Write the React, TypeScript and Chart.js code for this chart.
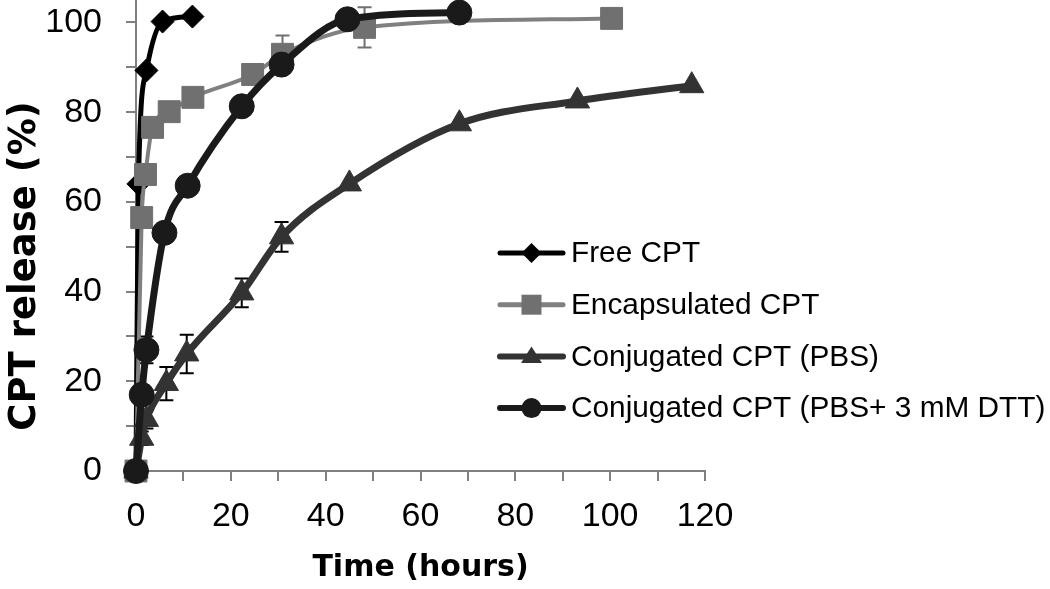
import React, { useEffect, useRef } from 'react';
import { Chart, registerables } from 'chart.js';

Chart.register(...registerables);

// ---- data ----
const seriesNames = [
  'Free CPT',
  'Encapsulated CPT',
  'Conjugated CPT (PBS)',
  'Conjugated CPT (PBS+ 3 mM DTT)',
];

const freeX = [0, 0.5, 2.2, 5.6, 11.9];
const freeY = [0, 64, 89.3, 100.2, 101.3];
const freeErr = [0, 0, 0, 0, 0];

const encX = [0, 1.2, 2, 3.5, 7, 12, 24.6, 30.9, 48.2, 100.3];
const encY = [0, 56.5, 66.1, 76.6, 80.1, 83.3, 88.4, 92.9, 98.9, 100.9];
const encErr = [0, 0, 0, 0, 0, 0, 0, 4.2, 4.5, 0];

const pbsX = [0, 1.2, 2.2, 6.4, 10.7, 22.3, 30.7, 45, 68.2, 93.1, 117.2];
const pbsY = [0, 7.3, 11.5, 19.5, 26.1, 39.7, 52.2, 64, 77.4, 82.5, 85.9];
const pbsErr = [0, 1.5, 2, 3.7, 4.3, 3.2, 3.3, 0, 0, 0, 0];

const dttX = [0, 1.2, 2.2, 6, 10.9, 22.3, 30.7, 44.6, 68.2];
const dttY = [0, 17, 27, 53.1, 63.6, 81.3, 90.6, 100.7, 102.2];
const dttErr = [0, 2, 3, 0, 0, 0, 0, 0, 0];

const xTickLabels = [0, 20, 40, 60, 80, 100, 120];
const yTickLabels = [0, 20, 40, 60, 80, 100];

const xTitle = 'Time (hours)';
const yTitle = 'CPT release (%)';

const toPoints = (xs: number[], ys: number[]) => xs.map((x, i) => ({ x, y: ys[i] }));

// ---- styles ----
const styles = [
  { color: '#000000', fill: '#000000', width: 5, legendWidth: 5, pointStyle: 'rectRot', radius: 11.5, legendSize: 10, err: '#000000' },
  { color: '#808080', fill: '#707070', width: 4, legendWidth: 5, pointStyle: 'rect', radius: 15.5, legendSize: 10, err: '#707070' },
  { color: '#333333', fill: '#333333', width: 7, legendWidth: 6, pointStyle: 'triangle', radius: 14, legendSize: 11, err: '#000000' },
  { color: '#1a1a1a', fill: '#1a1a1a', width: 7, legendWidth: 6, pointStyle: 'circle', radius: 12.5, legendSize: 10, err: '#000000' },
];

const seriesData = [
  { pts: toPoints(freeX, freeY), err: freeErr },
  { pts: toPoints(encX, encY), err: encErr },
  { pts: toPoints(pbsX, pbsY), err: pbsErr },
  { pts: toPoints(dttX, dttY), err: dttErr },
];

const errorBarPlugin = {
  id: 'errorBars',
  beforeDatasetsDraw(chart: any) {
    const ctx = chart.ctx;
    const yScale = chart.scales.y;
    chart.data.datasets.forEach((ds: any, i: number) => {
      const meta = chart.getDatasetMeta(i);
      const errs: number[] = ds.errorBars || [];
      ctx.save();
      ctx.strokeStyle = styles[i].err;
      ctx.lineWidth = 2;
      meta.data.forEach((el: any, j: number) => {
        const e = errs[j];
        if (!e) return;
        const v = ds.data[j].y;
        const x = el.x;
        const yTop = yScale.getPixelForValue(v + e);
        const yBot = yScale.getPixelForValue(v - e);
        ctx.beginPath();
        ctx.moveTo(x, yTop);
        ctx.lineTo(x, yBot);
        ctx.moveTo(x - 7, yTop);
        ctx.lineTo(x + 7, yTop);
        ctx.moveTo(x - 7, yBot);
        ctx.lineTo(x + 7, yBot);
        ctx.stroke();
      });
      ctx.restore();
    });
  },
};

function drawMarker(ctx: CanvasRenderingContext2D, style: string, x: number, y: number, s: number) {
  ctx.beginPath();
  if (style === 'rectRot') {
    ctx.moveTo(x - s, y);
    ctx.lineTo(x, y - s);
    ctx.lineTo(x + s, y);
    ctx.lineTo(x, y + s);
    ctx.closePath();
  } else if (style === 'rect') {
    ctx.rect(x - s, y - s, 2 * s, 2 * s);
  } else if (style === 'triangle') {
    const h = s * 1.5;
    ctx.moveTo(x, y - h * 0.6);
    ctx.lineTo(x + s * 0.95, y + h * 0.4);
    ctx.lineTo(x - s * 0.95, y + h * 0.4);
    ctx.closePath();
  } else {
    ctx.arc(x, y, s, 0, Math.PI * 2);
  }
  ctx.fill();
}

const legendPlugin = {
  id: 'customLegend',
  afterDraw(chart: any) {
    const ctx = chart.ctx;
    const x0 = 500;
    const x1 = 563;
    const top = 253;
    const gap = 51.7;
    ctx.save();
    chart.data.datasets.forEach((ds: any, i: number) => {
      const st = styles[i];
      const y = top + i * gap;
      ctx.strokeStyle = st.color;
      ctx.lineWidth = st.legendWidth;
      ctx.lineCap = 'round';
      ctx.beginPath();
      ctx.moveTo(x0, y);
      ctx.lineTo(x1, y);
      ctx.stroke();
      ctx.fillStyle = st.fill;
      drawMarker(ctx, st.pointStyle, (x0 + x1) / 2, y, st.legendSize);
      ctx.fillStyle = '#000';
      ctx.font = '29.8px "Liberation Sans", Arial, sans-serif';
      ctx.textAlign = 'left';
      ctx.textBaseline = 'middle';
      ctx.fillText(ds.label, x1 + 8, y + 1);
    });
    ctx.restore();
  },
};

const yTitlePlugin = {
  id: 'yTitle',
  afterDraw(chart: any) {
    const ctx = chart.ctx;
    ctx.save();
    ctx.translate(25, 266);
    ctx.rotate(-Math.PI / 2);
    ctx.fillStyle = '#000';
    ctx.font = 'bold 37px "DejaVu Sans", sans-serif';
    ctx.textAlign = 'center';
    ctx.textBaseline = 'middle';
    ctx.fillText(yTitle, 0, 0);
    ctx.restore();
  },
};

export default function App() {
  const canvasRef = useRef<HTMLCanvasElement | null>(null);

  useEffect(() => {
    document.body.style.margin = '0';
    const canvas = canvasRef.current;
    if (!canvas) return;
    const chart = new Chart(canvas, {
      type: 'line',
      data: {
        datasets: seriesData.map((s, i) => ({
          label: seriesNames[i],
          data: s.pts,
          errorBars: s.err,
          borderColor: styles[i].color,
          backgroundColor: styles[i].fill,
          borderWidth: styles[i].width,
          pointStyle: styles[i].pointStyle,
          pointRadius: styles[i].radius,
          pointHoverRadius: styles[i].radius,
          pointBackgroundColor: styles[i].fill,
          pointBorderColor: styles[i].fill,
          pointBorderWidth: 1,
          cubicInterpolationMode: 'monotone',
          fill: false,
          clip: false,
          order: 4 - i,
        })) as any,
      },
      options: {
        responsive: false,
        animation: false,
        maintainAspectRatio: false,
        layout: { autoPadding: false, padding: { left: 0, right: 345, top: 0, bottom: 0 } },
        plugins: {
          legend: { display: false },
          tooltip: { enabled: false },
        },
        scales: {
          x: {
            type: 'linear',
            min: 0,
            max: 120,
            afterFit: (scale: any) => {
              scale.height = 118;
              scale.paddingLeft = 0;
              scale.paddingRight = 0;
            },
            ticks: {
              stepSize: 10,
              includeBounds: false,
              autoSkip: false,
              maxRotation: 0,
              padding: 15,
              color: '#000',
              font: { family: '"Liberation Sans", Arial, sans-serif', size: 34 },
              callback: (v: any) => (xTickLabels.includes(Number(v)) ? String(v) : ''),
            },
            grid: {
              drawOnChartArea: false,
              drawTicks: true,
              tickLength: 10,
              color: '#808080',
              lineWidth: 2,
            },
            border: { display: true, color: '#808080', width: 2 },
            title: {
              display: true,
              text: xTitle,
              color: '#000',
              font: { family: '"DejaVu Sans", sans-serif', size: 30, weight: 'bold' },
              padding: { top: 0, bottom: 3 },
            },
          },
          y: {
            type: 'linear',
            min: 0,
            max: 105,
            afterFit: (scale: any) => {
              scale.width = 136;
              scale.paddingTop = 0;
              scale.paddingBottom = 0;
            },
            ticks: {
              stepSize: 10,
              includeBounds: false,
              autoSkip: false,
              padding: 24,
              color: '#000',
              font: { family: '"Liberation Sans", Arial, sans-serif', size: 34 },
              callback: (v: any) => (yTickLabels.includes(Number(v)) ? String(v) : ''),
            },
            grid: {
              drawOnChartArea: false,
              drawTicks: true,
              tickLength: 10,
              color: '#808080',
              lineWidth: 2,
            },
            border: { display: true, color: '#808080', width: 2 },
            title: { display: false },
          },
        },
      },
      plugins: [errorBarPlugin, legendPlugin, yTitlePlugin],
    });
    return () => chart.destroy();
  }, []);

  return (
    <div style={{ width: 1050, height: 589, background: '#fff' }}>
      <canvas ref={canvasRef} width={1050} height={589} style={{ display: 'block' }} />
    </div>
  );
}
